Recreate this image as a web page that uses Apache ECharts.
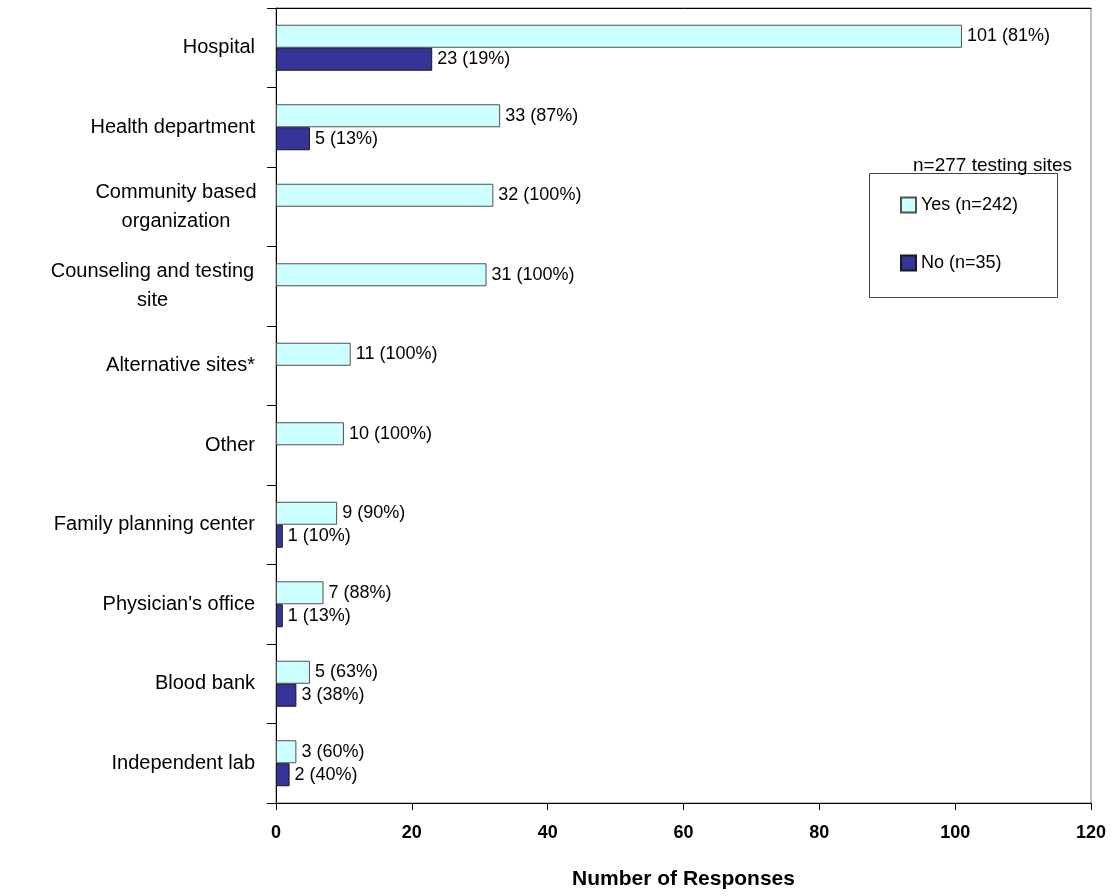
<!DOCTYPE html>
<html>
<head>
<meta charset="utf-8">
<script src="https://cdn.jsdelivr.net/npm/echarts@6/dist/echarts.min.js"></script>
<style>
  html, body { margin: 0; padding: 0; background: #fff; }
  #chart { width: 1113px; height: 896px; }
</style>
</head>
<body>
<div id="chart"></div>
<script>
// Testing sites by type, split by Yes / No responses
const categories = [
  'Hospital',
  'Health department',
  'Community based\norganization',
  'Counseling and testing\nsite',
  'Alternative sites*',
  'Other',
  'Family planning center',
  "Physician's office",
  'Blood bank',
  'Independent lab'
];
const yesValues = [101, 33, 32, 31, 11, 10, 9, 7, 5, 3];
const yesPercents = [81, 87, 100, 100, 100, 100, 90, 88, 63, 60];
const noValues = [23, 5, 0, 0, 0, 0, 1, 1, 3, 2];
const noPercents = [19, 13, 0, 0, 0, 0, 10, 13, 38, 40];
const xTicks = { min: 0, max: 120, interval: 20 };
const seriesNames = ['Yes (n=242)', 'No (n=35)'];
const noteText = 'n=277 testing sites';
const axisTitle = 'Number of Responses';

const FONT = '"Liberation Sans", Arial, sans-serif';

// widths used to center the lines of two-line category labels
const multiLineStyles = {
  cbo: { width: 158, align: 'center', fontSize: 20, fontFamily: FONT, color: '#000', lineHeight: 29 },
  cts: { width: 205, align: 'center', fontSize: 20, fontFamily: FONT, color: '#000', lineHeight: 29 }
};
function categoryLabel(value) {
  if (value.indexOf('\n') < 0) return value;
  const key = value.indexOf('Community') === 0 ? 'cbo' : 'cts';
  return value.split('\n').map(function (line) { return '{' + key + '|' + line + '}'; }).join('\n');
}

function barData(values, percents) {
  return values.map(function (v, i) {
    return v === 0 ? { value: '-' } : { value: v, pct: percents[i] };
  });
}

const chart = echarts.init(document.getElementById('chart'), null, { renderer: 'canvas' });

chart.setOption({
  animation: false,
  backgroundColor: '#ffffff',
  grid: {
    left: 276, top: 8, right: 22, bottom: 93,
    show: true, borderColor: '#808080', borderWidth: 1, backgroundColor: 'transparent'
  },
  xAxis: [{
    type: 'value',
    min: xTicks.min, max: xTicks.max, interval: xTicks.interval,
    name: axisTitle,
    nameLocation: 'middle',
    nameGap: 66,
    nameTextStyle: { fontSize: 21, fontWeight: 'bold', fontFamily: FONT, color: '#000' },
    axisLine: { show: true, lineStyle: { color: '#000', width: 1 } },
    axisTick: { show: true, length: 7, lineStyle: { color: '#000' } },
    axisLabel: { fontSize: 18, fontWeight: 'bold', fontFamily: FONT, color: '#000', margin: 21 },
    splitLine: { show: false }
  }, {
    type: 'value',
    position: 'top',
    min: xTicks.min, max: xTicks.max, interval: xTicks.interval,
    axisLine: { show: true, lineStyle: { color: '#000', width: 1 } },
    axisTick: { show: false },
    axisLabel: { show: false },
    splitLine: { show: false }
  }],
  yAxis: {
    type: 'category',
    inverse: true,
    data: categories,
    axisLine: { show: true, onZero: false, lineStyle: { color: '#000', width: 1 } },
    axisTick: { show: true, length: 9, lineStyle: { color: '#000' } },
    axisLabel: {
      fontSize: 20, fontFamily: FONT, color: '#000', margin: 21, lineHeight: 29,
      formatter: categoryLabel,
      rich: multiLineStyles
    },
    splitLine: { show: false }
  },
  legend: {
    orient: 'vertical',
    left: 900,
    top: 195,
    itemWidth: 15,
    itemHeight: 15,
    itemGap: 38,
    padding: 0,
    icon: 'rect',
    textStyle: { fontSize: 18, fontFamily: FONT, color: '#000', lineHeight: 20 },
    data: seriesNames
  },
  graphic: [{
    type: 'rect',
    shape: { x: 869.5, y: 173.5, width: 188, height: 124 },
    style: { fill: 'none', stroke: '#404040', lineWidth: 1 },
    z: 0
  }, {
    type: 'text',
    x: 1072, y: 166,
    style: {
      text: noteText, fontSize: 19, fontFamily: FONT, fill: '#000',
      align: 'right', verticalAlign: 'middle'
    }
  }],
  series: [{
    name: seriesNames[0],
    type: 'bar',
    barWidth: 23,
    barGap: '0%',
    data: barData(yesValues, yesPercents),
    itemStyle: { color: '#CCFFFF', borderColor: '#505050', borderWidth: 1 },
    label: {
      show: true, position: 'right', distance: 5,
      fontSize: 18, fontFamily: FONT, color: '#000',
      formatter: function (p) { return p.data.value + ' (' + p.data.pct + '%)'; }
    }
  }, {
    name: seriesNames[1],
    type: 'bar',
    barWidth: 23,
    barGap: '0%',
    data: barData(noValues, noPercents),
    itemStyle: { color: '#333399', borderColor: '#1a1a1a', borderWidth: 1 },
    label: {
      show: true, position: 'right', distance: 5,
      fontSize: 18, fontFamily: FONT, color: '#000',
      formatter: function (p) { return p.data.value + ' (' + p.data.pct + '%)'; }
    }
  }]
});
</script>
</body>
</html>
